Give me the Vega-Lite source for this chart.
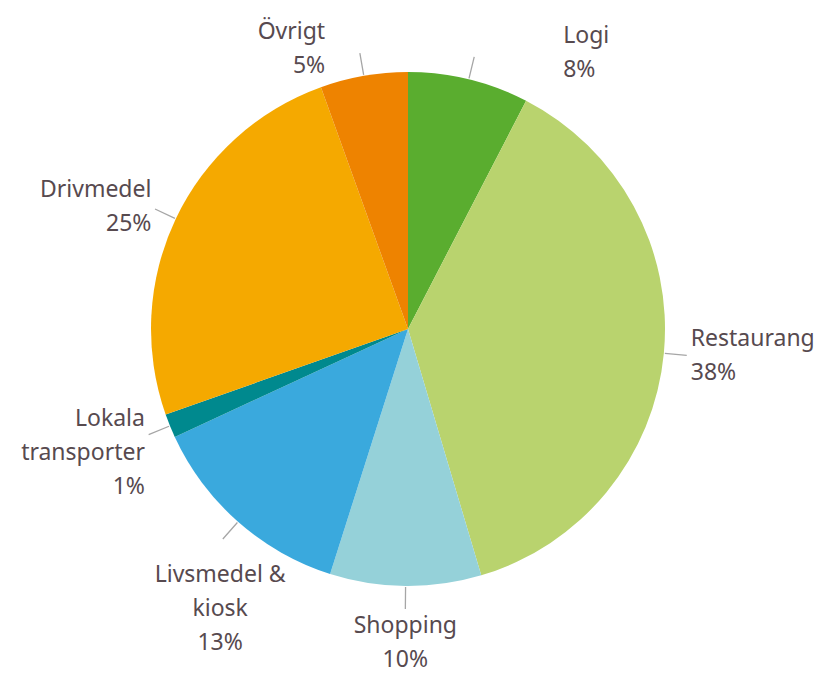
{
  "$schema": "https://vega.github.io/schema/vega-lite/v6.json",
  "width": 816,
  "height": 658,
  "autosize": "none",
  "padding": {"left": 0, "top": 0, "right": 3, "bottom": 16},
  "background": "white",
  "view": {"stroke": null},
  "data": {
    "values": [
      {"category": "Logi", "share": 7.6, "order": 1, "label": "Logi\n8%"},
      {"category": "Restaurang", "share": 37.8, "order": 2, "label": "Restaurang\n38%"},
      {"category": "Shopping", "share": 9.5, "order": 3, "label": "Shopping\n10%"},
      {"category": "Livsmedel & kiosk", "share": 13.2, "order": 4, "label": "Livsmedel &\nkiosk\n13%"},
      {"category": "Lokala transporter", "share": 1.5, "order": 5, "label": "Lokala\ntransporter\n1%"},
      {"category": "Drivmedel", "share": 24.9, "order": 6, "label": "Drivmedel\n25%"},
      {"category": "Övrigt", "share": 5.5, "order": 7, "label": "Övrigt\n5%"}
    ]
  },
  "encoding": {
    "theta": {"field": "share", "type": "quantitative", "stack": true},
    "order": {"field": "order", "type": "quantitative"}
  },
  "layer": [
    {
      "mark": {"type": "arc", "radius": 257, "stroke": null},
      "encoding": {
        "color": {
          "field": "category",
          "type": "nominal",
          "legend": null,
          "scale": {
            "domain": ["Logi", "Restaurang", "Shopping", "Livsmedel & kiosk", "Lokala transporter", "Drivmedel", "Övrigt"],
            "range": ["#5aad2f", "#b9d36e", "#95d1d9", "#3aa9dd", "#00898e", "#f5a900", "#ee8300"]
          }
        }
      }
    },
    {
      "mark": {"type": "arc", "radius": 280, "radius2": 258, "padAngle": 3.14, "filled": false, "stroke": "#a6a6a6", "strokeWidth": 1.3},
      "encoding": {
        "detail": {"field": "category", "type": "nominal"}
      }
    },
    {
      "mark": {
        "type": "text",
        "radius": 284,
        "font": "Noto Sans",
        "fontSize": 23,
        "lineHeight": 34,
        "lineBreak": "\n",
        "color": "#574a4f",
        "align": {"expr": "cos(PI*(datum.share_start+datum.share_end)/100) < -0.7 ? 'center' : (sin(PI*(datum.share_start+datum.share_end)/100) > 0 ? 'left' : 'right')"},
        "baseline": {"expr": "cos(PI*(datum.share_start+datum.share_end)/100) < -0.7 ? 'top' : 'middle'"},
        "dy": {"expr": "cos(PI*(datum.share_start+datum.share_end)/100) < -0.7 ? 2 + 30*abs(sin(PI*(datum.share_start+datum.share_end)/100)) : -17"},
        "dx": {"expr": "cos(PI*(datum.share_start+datum.share_end)/100) > 0.8 ? (sin(PI*(datum.share_start+datum.share_end)/100) > 0 ? 88 : -34) : 0"}
      },
      "encoding": {
        "detail": {"field": "category", "type": "nominal"},
        "text": {"field": "label", "type": "nominal"}
      }
    }
  ]
}
